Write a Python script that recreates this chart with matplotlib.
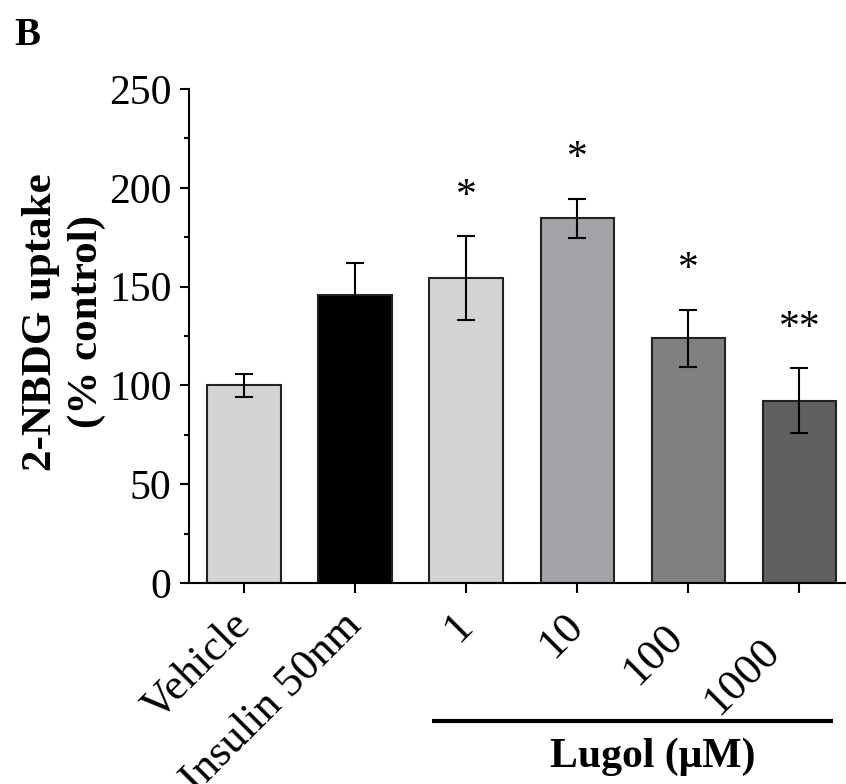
import matplotlib
matplotlib.use("Agg")
import matplotlib.pyplot as plt
import matplotlib.transforms as mtransforms
import numpy as np

categories = ["Vehicle", "Insulin 50nm", "1", "10", "100", "1000"]
values = [100.0, 145.5, 154.2, 184.5, 123.9, 92.2]
errors = [6.0, 16.2, 21.3, 10.0, 14.5, 16.5]
stars = ["", "", "*", "*", "*", "**"]
colors = ["#d3d3d3", "#000000", "#d3d3d3", "#a3a3a7", "#808080", "#606060"]
yticks = [0, 50, 100, 150, 200, 250]

plt.rcParams["font.family"] = ["Liberation Serif", "DejaVu Serif"]

fig = plt.figure(figsize=(8.46, 7.84), dpi=100)
ax = fig.add_axes([189/846, 1-583/784, 1-189/846, (583-89)/784])

x = np.arange(len(categories))
ax.bar(x, values, width=0.66, color=colors, edgecolor="#222222", linewidth=1.5, zorder=2)
ax.errorbar(x, values, yerr=errors, fmt="none", ecolor="black", elinewidth=1.5,
            capsize=6.5, capthick=1.5, zorder=3)

for xi, v, e, s in zip(x, values, errors, stars):
    if s:
        ax.text(xi, v + e + 20, s, ha="center", va="center", fontsize=30, zorder=4)

ax.set_xlim(-0.495, 5.42)
ax.set_ylim(0, 250)
ax.set_yticks(yticks)
ax.set_yticklabels([str(t) for t in yticks], fontsize=30)
ax.yaxis.set_minor_locator(matplotlib.ticker.MultipleLocator(25))
ax.tick_params(axis="y", which="major", direction="out", length=6.5, width=1.5, pad=6.0)
ax.tick_params(axis="y", which="minor", direction="out", length=3.6, width=1.5)
ax.tick_params(axis="x", which="major", direction="out", length=7.2, width=1.5, pad=19)

ax.set_xticks(x)
ax.set_xticklabels(categories, fontsize=32, rotation=45, ha="right", va="center",
                   rotation_mode="anchor")
# extra offsets along the label direction for the long lugol labels
label_shift = [0, 0, 0, 0, 16, 36]
for lab, sh in zip(ax.get_xticklabels(), label_shift):
    if sh:
        off = mtransforms.ScaledTranslation(-sh*0.7071/100, -sh*0.7071/100, fig.dpi_scale_trans)
        lab.set_transform(lab.get_transform() + off)

for side in ["top", "right"]:
    ax.spines[side].set_visible(False)
for side in ["left", "bottom"]:
    ax.spines[side].set_linewidth(1.5)

# Lugol group bar and label
trans = mtransforms.blended_transform_factory(ax.transData, ax.transAxes)
ax.plot([1.69, 5.30], [-0.2787, -0.2787], color="black", linewidth=3, transform=trans,
        clip_on=False, solid_capstyle="butt")
ax.text(3.68, -0.372, "Lugol (\u03bcM)", transform=trans, ha="center", va="baseline",
        fontsize=30, fontweight="bold")

fig.text(64/846, 1-322/784, "2-NBDG uptake\n(% control)", rotation=90, ha="center",
         va="center", fontsize=31, fontweight="bold", multialignment="center",
         linespacing=1.25)
fig.text(14/846, 1-45/784, "B", ha="left", va="baseline", fontsize=28, fontweight="bold")

fig.savefig("out.png", dpi=100)
